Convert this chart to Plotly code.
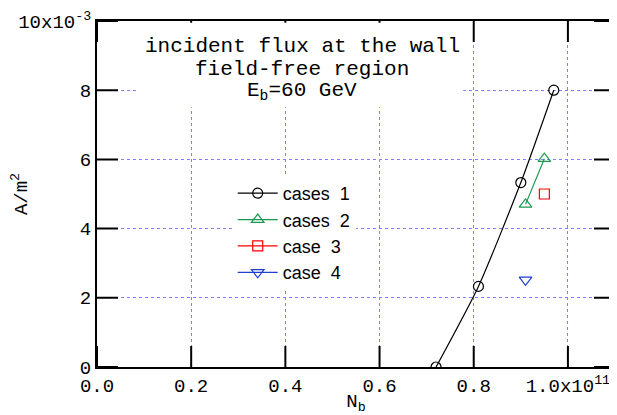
import plotly.graph_objects as go

# data (x in units of 1e11, y in units of 1e-3 A/m^2)
nb_case1 = [0.72, 0.81, 0.90, 0.97]
flux_case1 = [0.0, 2.33, 5.33, 8.0]
nb_case2 = [0.91, 0.95]
flux_case2 = [4.7, 6.02]
nb_case3 = [0.95]
flux_case3 = [5.0]
nb_case4 = [0.91]
flux_case4 = [2.52]

x_tickvals = [0.0, 0.2, 0.4, 0.6, 0.8, 1.0]
x_ticktext = ["0.0", "0.2", "0.4", "0.6", "0.8", "1.0x10<sup>11</sup>"]
y_tickvals = [0, 2, 4, 6, 8, 10]
y_ticktext = ["0", "2", "4", "6", "8", "10x10<sup>-3</sup>"]

title_lines = ["incident flux at the wall", "field-free region", "E<sub>b</sub>=60 GeV"]

MONO = "Liberation Mono, Courier New, monospace"
SANS = "Liberation Sans, Arial, sans-serif"
NB = "\u00a0"

X_RANGE = [0, 1.1]
Y_RANGE = [0, 10]

fig = go.Figure()
fig.add_trace(go.Scatter(
    x=nb_case1, y=flux_case1, name="cases" + NB * 2 + "1", mode="lines+markers",
    line=dict(color="black", width=1.2, shape="spline", smoothing=0.6),
    marker=dict(symbol="circle-open", size=10, color="black", line=dict(width=1.2)),
))
fig.add_trace(go.Scatter(
    x=nb_case2, y=flux_case2, name="cases" + NB * 2 + "2", mode="lines+markers",
    line=dict(color="#1a9850", width=1.2),
    marker=dict(symbol="triangle-up-open", size=11, color="#1a9850", line=dict(width=1.2)),
))
fig.add_trace(go.Scatter(
    x=nb_case3, y=flux_case3, name="case" + NB * 2 + "3", mode="lines+markers",
    line=dict(color="red", width=1.2),
    marker=dict(symbol="square-open", size=10, color="red", line=dict(width=1.2)),
))
fig.add_trace(go.Scatter(
    x=nb_case4, y=flux_case4, name="case" + NB * 2 + "4", mode="lines+markers",
    line=dict(color="#1f3fd0", width=1.2),
    marker=dict(symbol="triangle-down-open", size=11, color="#1f3fd0", line=dict(width=1.2)),
))

# inside tick marks: 30px line markers centred on the frame, clipped to the plot area
xt = x_tickvals * 2
yt = [Y_RANGE[0]] * len(x_tickvals) + [Y_RANGE[1]] * len(x_tickvals)
fig.add_trace(go.Scatter(x=xt, y=yt, mode="markers", showlegend=False, hoverinfo="skip",
                         marker=dict(symbol="line-ns", size=30, color="black",
                                     line=dict(color="black", width=2))))
xr = [X_RANGE[0]] * len(y_tickvals) + [X_RANGE[1]] * len(y_tickvals)
yr = y_tickvals * 2
fig.add_trace(go.Scatter(x=xr, y=yr, mode="markers", showlegend=False, hoverinfo="skip",
                         marker=dict(symbol="line-ew", size=30, color="black",
                                     line=dict(color="black", width=2))))

axis_common = dict(
    automargin=False, ticks="",
    showline=True, linecolor="black", linewidth=2, mirror=True,
    showgrid=True, gridcolor="#8080ff", griddash="dot", gridwidth=1,
    zeroline=False, tickfont=dict(family=MONO, size=19, color="black"),
)

fig.update_xaxes(range=X_RANGE, tickvals=x_tickvals, ticktext=x_ticktext,
                 title=dict(text="N<sub>b</sub>", font=dict(family=MONO, size=19, color="black"),
                            standoff=14),
                 **axis_common)
fig.update_yaxes(range=Y_RANGE, tickvals=y_tickvals, ticktext=y_ticktext,
                 title=dict(text="A/m<sup>2</sup>", font=dict(family=MONO, size=19, color="black"),
                            standoff=8),
                 **axis_common)

# white mask behind the title text, over the grid
fig.add_shape(type="rect", xref="paper", yref="paper", x0=0.079, x1=0.707, y0=0.751, y1=0.995,
              fillcolor="white", line=dict(width=0), layer="above")

for i, txt in enumerate(title_lines):
    fig.add_annotation(text=txt, xref="paper", yref="paper", x=0.396, y=0.925 - i * 0.064,
                       xanchor="center", yanchor="middle",
                       showarrow=False, font=dict(family=MONO, size=21, color="black"))

# page body has an 8px margin, so the figure is sized to end at the window edge
fig.update_layout(
    width=609, height=407,
    margin=dict(l=89, r=2, t=13, b=48),
    plot_bgcolor="white", paper_bgcolor="white",
    legend=dict(x=0.262, y=0.555, xanchor="left", yanchor="top", bgcolor="white",
                itemwidth=40,
                font=dict(family=SANS, size=18, color="black"), tracegroupgap=0),
)

fig.write_html("out.html")
